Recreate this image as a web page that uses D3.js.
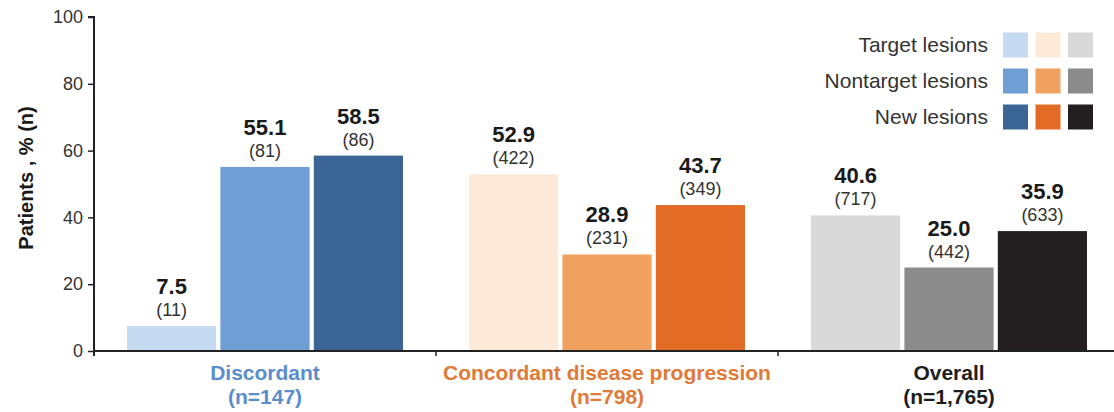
<!DOCTYPE html>
<html>
<head>
<meta charset="utf-8">
<script src="https://cdn.jsdelivr.net/npm/d3@7"></script>
<style>
  body { margin: 0; background: #fff; }
  text { font-family: "Liberation Sans", Arial, sans-serif; }
</style>
</head>
<body>
<script>
// groups along the x axis
var groups = ['Discordant', 'Concordant disease progression', 'Overall'];
var groupN = ['(n=147)', '(n=798)', '(n=1,765)'];
var groupColors = ['#5b8dcc', '#e07a36', '#1e1e1e'];
var series = ['Target lesions', 'Nontarget lesions', 'New lesions'];
// percent values per group, in series order
var pctValues = [
    [7.5, 55.1, 58.5],
    [52.9, 28.9, 43.7],
    [40.6, 25.0, 35.9]
];
var countValues = [
    [11, 81, 86],
    [422, 231, 349],
    [717, 442, 633]
];
var barColors = [
    ['#c6daf2', '#6f9ed4', '#3b6595'],
    ['#fde9d8', '#f0a05f', '#e26b25'],
    ['#d9d9d9', '#8b8b8b', '#231f20']
];
var yTicks = [0, 20, 40, 60, 80, 100];

var width = 1114, height = 412;
var margin = { top: 17, right: -6, bottom: 61, left: 94 };

var svg = d3.select('body').append('svg')
    .attr('width', width)
    .attr('height', height);

var x = d3.scaleBand()
    .domain(groups)
    .range([margin.left, width - margin.right]);

var inner = d3.scaleBand()
    .domain(series)
    .range([0, 276])
    .paddingInner(0.045);

var y = d3.scaleLinear()
    .domain([0, 100])
    .range([height - margin.bottom, margin.top]);

// bars
groups.forEach(function (g, gi) {
    var off = x(g) + (x.bandwidth() - 276) / 2;
    var gEl = svg.append('g').attr('transform', 'translate(' + off + ',0)');
    var rows = series.map(function (s, si) {
        return { s: s, v: pctValues[gi][si], n: countValues[gi][si], c: barColors[gi][si] };
    });
    gEl.selectAll('rect')
        .data(rows)
        .enter()
        .append('rect')
        .attr('x', function (d) { return inner(d.s); })
        .attr('y', function (d) { return y(d.v); })
        .attr('width', inner.bandwidth())
        .attr('height', function (d) { return y(0) - y(d.v); })
        .style('fill', function (d) { return d.c; });

    gEl.selectAll('.val')
        .data(rows)
        .enter()
        .append('text')
        .attr('x', function (d) { return inner(d.s) + inner.bandwidth() / 2; })
        .attr('y', function (d) { return y(d.v) - 32; })
        .attr('text-anchor', 'middle')
        .style('font-size', '22px')
        .style('font-weight', 'bold')
        .style('fill', '#1a1a1a')
        .text(function (d) { return d.v.toFixed(1); });

    gEl.selectAll('.cnt')
        .data(rows)
        .enter()
        .append('text')
        .attr('x', function (d) { return inner(d.s) + inner.bandwidth() / 2; })
        .attr('y', function (d) { return y(d.v) - 10; })
        .attr('text-anchor', 'middle')
        .style('font-size', '18px')
        .style('fill', '#333')
        .text(function (d) { return '(' + d.n + ')'; });
});

// x axis
var xAxis = svg.append('g')
    .attr('transform', 'translate(0,' + y(0) + ')');
xAxis.append('line')
    .attr('x1', margin.left)
    .attr('x2', width)
    .style('stroke', '#222')
    .style('stroke-width', 2);
xAxis.selectAll('.sep')
    .data(groups.slice(1))
    .enter()
    .append('line')
    .attr('x1', function (d) { return x(d); })
    .attr('x2', function (d) { return x(d); })
    .attr('y1', 0)
    .attr('y2', 5)
    .style('stroke', '#222')
    .style('stroke-width', 1.5);

groups.forEach(function (g, gi) {
    var t = svg.append('text')
        .attr('x', x(g) + x.bandwidth() / 2)
        .attr('text-anchor', 'middle')
        .style('font-size', '21px')
        .style('font-weight', 'bold')
        .style('fill', groupColors[gi]);
    t.append('tspan').attr('x', x(g) + x.bandwidth() / 2).attr('y', 380).text(g);
    t.append('tspan').attr('x', x(g) + x.bandwidth() / 2).attr('y', 404).text(groupN[gi]);
});

// y axis
var yAxis = svg.append('g')
    .attr('transform', 'translate(' + margin.left + ',0)')
    .call(d3.axisLeft(y).tickValues(yTicks).tickSize(6).tickPadding(5));
yAxis.select('.domain')
    .attr('d', 'M-6,' + y(100) + 'H0V' + (y(0) + 5))
    .style('stroke', '#222')
    .style('stroke-width', 2);
yAxis.selectAll('.tick line').style('stroke', '#222').style('stroke-width', 1.5);
yAxis.selectAll('.tick text')
    .style('font-size', '18px')
    .style('fill', '#333')
    .style('font-family', '"Liberation Sans", Arial, sans-serif');

svg.append('text')
    .attr('transform', 'translate(33,' + (y(50) - 6) + ') rotate(-90)')
    .attr('text-anchor', 'middle')
    .style('font-size', '20px')
    .style('font-weight', 'bold')
    .style('fill', '#1a1a1a')
    .text('Patients , % (n)');

// legend
var legend = svg.append('g');
series.forEach(function (s, si) {
    var cy = 45 + si * 36;
    legend.append('text')
        .attr('x', 988)
        .attr('y', cy + 7)
        .attr('text-anchor', 'end')
        .style('font-size', '21px')
        .style('fill', '#333')
        .text(s);
    barColors.forEach(function (cols, gi) {
        legend.append('rect')
            .attr('x', 1003 + gi * 32.5)
            .attr('y', cy - 12.5)
            .attr('width', 25)
            .attr('height', 25)
            .style('fill', cols[si]);
    });
});
</script>
</body>
</html>
